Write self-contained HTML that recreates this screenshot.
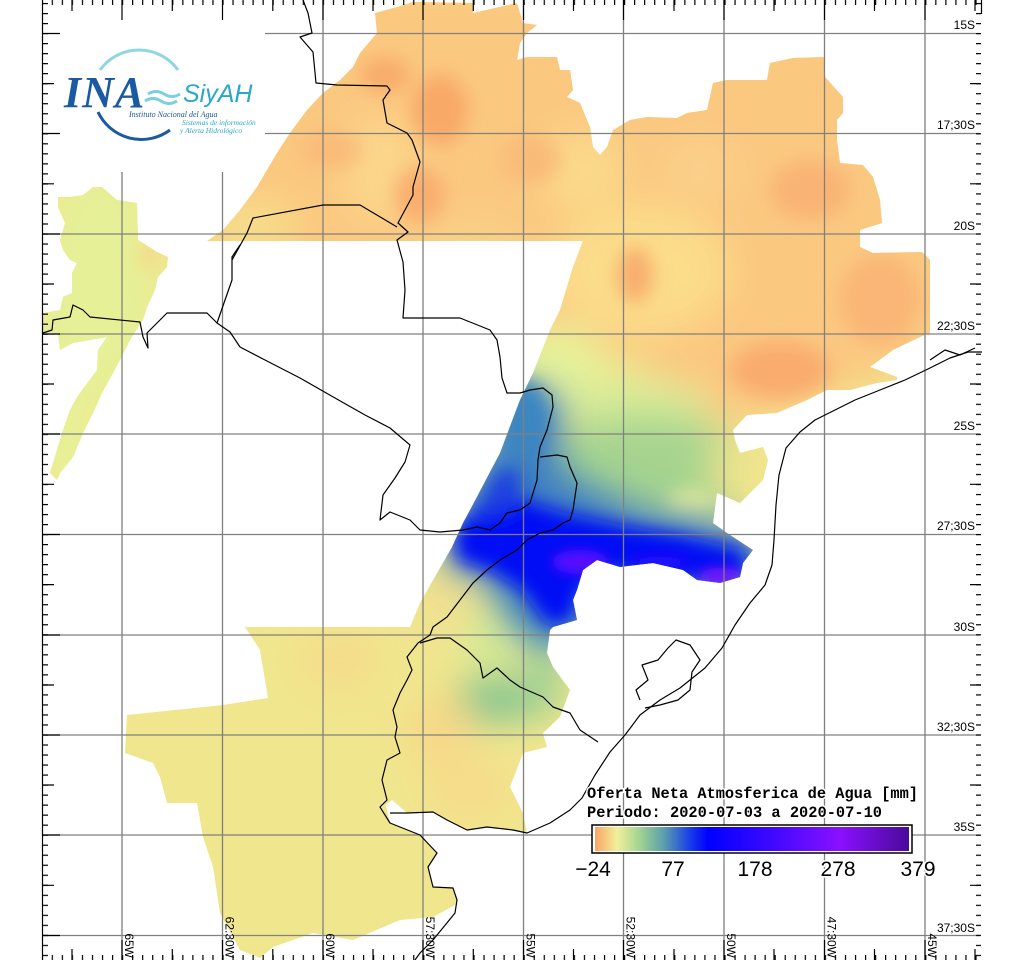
<!DOCTYPE html>
<html><head><meta charset="utf-8"><style>
html,body{margin:0;padding:0;background:#fff;}
svg{display:block;}
</style></head><body>
<svg width="1024" height="960" viewBox="0 0 1024 960" xmlns="http://www.w3.org/2000/svg">
<defs>
<clipPath id="dc">
<polygon points="207,241 223,230 240,210 257,187 277,153 290,133 307,110 323,93 340,80 353,67 360,53 377,33 375,13 397,7 413,2 473,3 473,13 517,3 523,23 537,25 527,33 520,43 517,60 527,57 557,57 560,70 570,70 573,90 567,97 580,103 590,127 593,147 600,155 607,147 613,130 630,120 647,117 677,118 687,113 707,110 713,83 727,80 767,80 770,63 793,58 825,57 825,77 843,97 843,113 837,120 837,140 840,163 863,165 873,177 880,200 882,223 860,230 860,247 873,253 922,252 930,260 930,333 920,337 893,350 870,367 897,377 897,380 877,383 850,390 827,390 807,400 777,413 747,415 733,430 735,440 740,453 763,447 768,460 763,480 740,503 717,493 713,523 727,533 753,550 743,563 740,577 720,583 697,580 683,570 653,563 620,567 597,560 583,570 577,590 573,600 577,620 553,627 550,630 547,653 553,667 570,690 560,717 543,733 547,747 523,753 510,787 523,813 527,833 513,830 487,827 467,830 447,820 433,812 407,813 392,800 386,805 390,823 420,835 437,853 428,867 433,887 453,888 457,900 455,905 433,917 400,920 353,940 313,933 273,947 260,958 240,950 220,913 213,867 203,837 197,803 167,803 160,777 153,763 125,753 127,715 223,705 268,698 260,650 245,627 410,627 420,603 452,547 463,523 470,510 500,453 520,400 533,373 550,330 560,310 573,267 583,241"/>
<polygon points="58,197 70,197 83,195 93,187 102,187 117,200 137,203 138,240 143,243 157,252 168,257 167,267 158,277 155,290 147,307 143,320 130,340 120,360 113,373 102,393 93,413 83,433 73,457 60,473 57,480 50,473 53,463 63,430 70,410 77,397 97,370 98,350 107,337 73,343 60,350 58,333 43,333 43,313 60,310 63,297 72,293 72,273 77,263 70,260 63,250 60,240 65,223 58,207"/>
</clipPath>
<filter id="b1" x="-20%" y="-20%" width="140%" height="140%"><feGaussianBlur stdDeviation="18"/></filter>
<filter id="b2" x="-20%" y="-20%" width="140%" height="140%"><feGaussianBlur stdDeviation="9"/></filter>
<filter id="b3" x="-50%" y="-50%" width="200%" height="200%"><feGaussianBlur stdDeviation="6"/></filter>
<linearGradient id="cb" x1="0" x2="1" y1="0" y2="0">
<stop offset="0" stop-color="#fba466"/>
<stop offset="0.07" stop-color="#f1f09a"/>
<stop offset="0.14" stop-color="#a4d592"/>
<stop offset="0.22" stop-color="#5a9eae"/>
<stop offset="0.30" stop-color="#1a40e8"/>
<stop offset="0.36" stop-color="#0000ff"/>
<stop offset="0.55" stop-color="#3a08ff"/>
<stop offset="0.78" stop-color="#8a10ff"/>
<stop offset="1" stop-color="#4a0a9a"/>
</linearGradient>
<pattern id="tx" patternUnits="userSpaceOnUse" x="122" y="0" width="10.04" height="10">
<rect x="0" y="0" width="1.2" height="10" fill="#000"/>
</pattern>
<pattern id="ty" patternUnits="userSpaceOnUse" x="0" y="33" width="10" height="10.02">
<rect x="0" y="0" width="10" height="1.2" fill="#000"/>
</pattern>
</defs>

<!-- data field -->
<g clip-path="url(#dc)">
<rect x="0" y="0" width="1024" height="960" fill="#f0e68e"/>
<g filter="url(#b1)">
<polygon points="190,-20 960,-20 960,330 900,370 760,420 700,420 640,360 560,340 480,300 300,270 190,260" fill="#fbc880"/>
<ellipse cx="100" cy="280" rx="60" ry="120" fill="#e6f096"/>
<ellipse cx="60" cy="430" rx="40" ry="60" fill="#e8f096"/>
<ellipse cx="640" cy="270" rx="90" ry="65" fill="#fbdd8a"/>
<ellipse cx="380" cy="170" rx="40" ry="55" fill="#fbd68a"/>
<ellipse cx="250" cy="225" rx="50" ry="22" fill="#f6e08c"/>
<ellipse cx="580" cy="170" rx="45" ry="40" fill="#fbd98a"/>
<ellipse cx="700" cy="170" rx="40" ry="30" fill="#fbd08a"/>
<ellipse cx="470" cy="255" rx="60" ry="40" fill="#f9d086"/>
<ellipse cx="560" cy="370" rx="45" ry="45" fill="#e6f29a"/>
<ellipse cx="630" cy="405" rx="80" ry="25" fill="#d8ec98"/>
<ellipse cx="645" cy="470" rx="110" ry="55" fill="#a6d48f"/>
<ellipse cx="740" cy="470" rx="30" ry="30" fill="#eee48c"/>
<ellipse cx="540" cy="600" rx="45" ry="45" fill="#64a6ac"/>
<ellipse cx="445" cy="600" rx="30" ry="40" fill="#f1e090"/>
<ellipse cx="490" cy="640" rx="25" ry="30" fill="#d0ea96"/>
<ellipse cx="495" cy="700" rx="40" ry="25" fill="#86c690"/>
<ellipse cx="545" cy="680" rx="18" ry="40" fill="#9cd094"/>
<ellipse cx="440" cy="730" rx="35" ry="35" fill="#f7d888"/>
<ellipse cx="470" cy="790" rx="45" ry="30" fill="#f6dc8a"/>
<ellipse cx="340" cy="660" rx="40" ry="30" fill="#f5dc8a"/>
<ellipse cx="60" cy="330" rx="30" ry="30" fill="#e6f096"/>
</g>
<g filter="url(#b2)">
<ellipse cx="150" cy="255" rx="10" ry="15" fill="#f6d88a"/>
<ellipse cx="440" cy="110" rx="28" ry="35" fill="#f8a868"/>
<ellipse cx="420" cy="195" rx="25" ry="28" fill="#f9ae6e"/>
<ellipse cx="635" cy="275" rx="18" ry="28" fill="#f8ae6e"/>
<ellipse cx="810" cy="190" rx="40" ry="30" fill="#f9b474"/>
<ellipse cx="780" cy="370" rx="50" ry="28" fill="#f9ac6e"/>
<ellipse cx="880" cy="300" rx="40" ry="45" fill="#fab676"/>
<ellipse cx="385" cy="75" rx="25" ry="18" fill="#f8ac6c"/>
<ellipse cx="330" cy="150" rx="30" ry="20" fill="#f9bc78"/>
<ellipse cx="530" cy="160" rx="30" ry="25" fill="#f9bc78"/>
<ellipse cx="690" cy="505" rx="25" ry="15" fill="#e6ee98"/>
<ellipse cx="480" cy="320" rx="30" ry="20" fill="#f9ba76"/>
</g>
<g filter="url(#b1)">
<polygon points="440,560 470,470 520,380 560,400 560,470 640,510 760,530 770,590 600,590 580,640 540,640 500,590" fill="#3a7ec4"/>
</g>
<g filter="url(#b2)">
<ellipse cx="525" cy="420" rx="22" ry="40" fill="#3a86c2"/>
<polygon points="455,532 478,505 520,498 560,512 620,525 680,535 742,550 750,575 700,582 600,570 580,592 570,622 548,625 522,590 490,570 458,560" fill="#0410f5"/>
<polygon points="470,520 500,470 520,470 515,510" fill="#1c3ee0"/>
</g>
<g filter="url(#b3)">
<ellipse cx="580" cy="562" rx="28" ry="12" fill="#5a10ff"/>
<ellipse cx="720" cy="576" rx="22" ry="8" fill="#7a10ff"/>
<ellipse cx="660" cy="562" rx="30" ry="6" fill="#2a08ff"/>
</g>
</g>

<!-- grid -->
<g stroke="#808080" stroke-width="1.3">
<line x1="122" y1="0" x2="122" y2="960"/><line x1="222.5" y1="0" x2="222.5" y2="960"/>
<line x1="323" y1="0" x2="323" y2="960"/><line x1="423" y1="0" x2="423" y2="960"/>
<line x1="523.5" y1="0" x2="523.5" y2="960"/><line x1="623.5" y1="0" x2="623.5" y2="960"/>
<line x1="724" y1="0" x2="724" y2="960"/><line x1="824.5" y1="0" x2="824.5" y2="960"/>
<line x1="925" y1="0" x2="925" y2="960"/>
<line x1="42" y1="33.5" x2="980" y2="33.5"/><line x1="42" y1="133.5" x2="980" y2="133.5"/>
<line x1="42" y1="234" x2="980" y2="234"/><line x1="42" y1="334" x2="980" y2="334"/>
<line x1="42" y1="434" x2="980" y2="434"/><line x1="42" y1="534.5" x2="980" y2="534.5"/>
<line x1="42" y1="635" x2="980" y2="635"/><line x1="42" y1="735" x2="980" y2="735"/>
<line x1="42" y1="835" x2="980" y2="835"/><line x1="42" y1="935.5" x2="980" y2="935.5"/>
</g>

<!-- boundaries -->
<g fill="none" stroke="#000" stroke-width="1.2" stroke-linejoin="round">
<polyline points="303,0 308,13 312,33 300,37 313,52 316,83 337,85 387,86 390,90 383,100 387,123 407,133 412,140 420,162 413,187 413,195 398,223 408,232 397,240 403,262 405,290 403,318 460,318 490,330 497,340 500,357 502,378 507,393 520,393 530,390 543,388 552,395 553,407 547,430 540,447 538,460 537,480 530,503 520,510 507,513 500,523 490,530 477,527 463,530 440,532 420,530 410,520 390,512 380,520 383,495 395,478 405,462 410,445 390,428 365,415 335,398 300,378 265,360 240,347"/>
<polyline points="232,260 247,233 253,218 323,205 360,205 397,227"/>
<polyline points="240,245 232,257 232,280 217,323 207,313 167,313 160,320 147,333 148,348 143,337 140,322 90,317 83,310 73,305 70,317 53,320 52,330 43,333"/>
<polyline points="217,323 230,332 240,347"/>
<polyline points="540,457 557,455 567,457 570,467 577,483 573,510 570,520 563,523 553,530 540,533 527,540 517,550 500,560 487,570 473,583 460,600 447,617 433,627 430,635 418,643 407,657 412,670 407,680 400,693 393,710 397,727 395,737 400,753 387,760 382,780 387,800 380,807 390,823 420,835 437,853 428,867 433,887 453,888 457,900 455,913 433,940 420,953 415,960"/>
<polyline points="420,643 437,638 450,638 467,650 480,663 483,678 497,668 510,680 520,687 543,697 553,707 570,713 580,730 598,742"/>
<polyline points="390,813 407,813 433,812 447,820 467,830 487,827 513,830 527,833 550,823 570,810 582,798 595,775 610,752 625,735 640,715 660,700 680,688 705,668 722,648 735,625 750,603 765,585 772,565 774,540 776,505 779,475 786,448 800,432 815,420 835,410 855,400 880,390 905,380 930,368 950,358 968,352 982,352"/>
<polyline points="640,700 636,690 648,680 642,665 658,660 668,648 676,640 690,645 700,660 692,672 690,690 678,700 660,705 645,708"/>
<polyline points="930,360 945,350 960,355 975,348"/>
</g>

<!-- logo white box -->
<rect x="43" y="0" width="222" height="172" fill="#fff"/>
<g>
<path d="M100,70 A48,48 0 0 1 178,70" fill="none" stroke="#8fd6e4" stroke-width="3"/>
<path d="M98,112 A48,48 0 0 0 170,130" fill="none" stroke="#1a5aa0" stroke-width="3"/>
<text x="64" y="107" font-family="Liberation Serif, serif" font-style="italic" font-weight="bold" font-size="44" fill="#1a5aa0" letter-spacing="1">INA</text>
<path d="M148,94 q8,-5 16,0 t16,0 M145,101 q8,-5 16,0 t16,0" fill="none" stroke="#7ccfe0" stroke-width="3"/>
<text x="183" y="102" font-family="Liberation Sans, sans-serif" font-style="italic" font-size="25" fill="#2aa8c8">SiyAH</text>
<text x="129" y="117" font-family="Liberation Serif, serif" font-style="italic" font-size="8" fill="#1a5aa0">Instituto Nacional del Agua</text>
<text x="182" y="125" font-family="Liberation Serif, serif" font-style="italic" font-size="7.5" fill="#2aa8c8">Sistemas de información</text>
<text x="180" y="133" font-family="Liberation Serif, serif" font-style="italic" font-size="7.5" fill="#2aa8c8">y Alerta Hidrológico</text>
</g>

<!-- frame & ticks -->
<g stroke="#000" stroke-width="1.2">
<line x1="42.5" y1="0" x2="42.5" y2="960"/>
<line x1="981.5" y1="0" x2="981.5" y2="14"/>
</g>
<!-- minor ticks -->
<rect x="43" y="0" width="937" height="5" fill="url(#tx)"/>
<rect x="43" y="955" width="937" height="5" fill="url(#tx)"/>
<rect x="43" y="2" width="5" height="956" fill="url(#ty)"/>
<rect x="976" y="2" width="5" height="956" fill="url(#ty)"/>
<!-- medium & major ticks -->
<g stroke="#000" stroke-width="1.2">
<path d="M72,0v11M172.3,0v11M272.8,0v11M373,0v11M473.3,0v11M573.5,0v11M674,0v11M774,0v11M874.5,0v11M975,0v11
M72,960v-11M172.3,960v-11M272.8,960v-11M373,960v-11M473.3,960v-11M573.5,960v-11M674,960v-11M774,960v-11M874.5,960v-11M975,960v-11
M122,0v20M222.5,0v20M323,0v20M423,0v20M523.5,0v20M623.5,0v20M724,0v20M824.5,0v20M925,0v20
M122,960v-20M222.5,960v-20M323,960v-20M423,960v-20M523.5,960v-20M623.5,960v-20M724,960v-20M824.5,960v-20M925,960v-20
M43,83.6h11M43,183.8h11M43,284h11M43,384h11M43,484.3h11M43,584.6h11M43,685h11M43,785h11M43,885.3h11
M981,83.6h-11M981,183.8h-11M981,284h-11M981,384h-11M981,484.3h-11M981,584.6h-11M981,685h-11M981,785h-11M981,885.3h-11
M43,33.5h17M43,133.5h17M43,234h17M43,334h17M43,434h17M43,534.5h17M43,635h17M43,735h17M43,835h17M43,935.5h17"/>
</g>

<!-- right labels -->
<g font-family="Liberation Sans, sans-serif" font-size="12" fill="#000" text-anchor="end">
<text x="975" y="29">15S</text><text x="975" y="129">17;30S</text>
<text x="975" y="230">20S</text><text x="975" y="330">22;30S</text>
<text x="975" y="430">25S</text><text x="975" y="530">27;30S</text>
<text x="975" y="631">30S</text><text x="975" y="731">32;30S</text>
<text x="975" y="831">35S</text><text x="975" y="932">37;30S</text>
</g>
<!-- bottom labels -->
<g font-family="Liberation Sans, sans-serif" font-size="12" fill="#000" text-anchor="end">
<text transform="translate(125,958) rotate(90)">65W</text>
<text transform="translate(225.5,958) rotate(90)">62:30W</text>
<text transform="translate(326,958) rotate(90)">60W</text>
<text transform="translate(426,958) rotate(90)">57:30W</text>
<text transform="translate(526.5,958) rotate(90)">55W</text>
<text transform="translate(626.5,958) rotate(90)">52:30W</text>
<text transform="translate(727,958) rotate(90)">50W</text>
<text transform="translate(827.5,958) rotate(90)">47:30W</text>
<text transform="translate(928,958) rotate(90)">45W</text>
</g>

<!-- legend -->
<g font-family="Liberation Mono, monospace" font-size="16" font-weight="bold" fill="#000" stroke="#fff" stroke-width="3" paint-order="stroke">
<text x="587" y="798" textLength="331" lengthAdjust="spacingAndGlyphs">Oferta Neta Atmosferica de Agua [mm]</text>
<text x="587" y="817" textLength="295" lengthAdjust="spacingAndGlyphs">Periodo: 2020-07-03 a 2020-07-10</text>
</g>
<rect x="592" y="825" width="320" height="28" fill="#fff" stroke="#000" stroke-width="1.5"/>
<rect x="595" y="827" width="314" height="24" fill="url(#cb)"/>
<g font-family="Liberation Sans, sans-serif" font-size="21" fill="#000" text-anchor="middle" stroke="#fff" stroke-width="3" paint-order="stroke">
<text x="593" y="876">−24</text><text x="673" y="876">77</text>
<text x="755" y="876">178</text><text x="838" y="876">278</text><text x="918" y="876">379</text>
</g>
</svg>
</body></html>
